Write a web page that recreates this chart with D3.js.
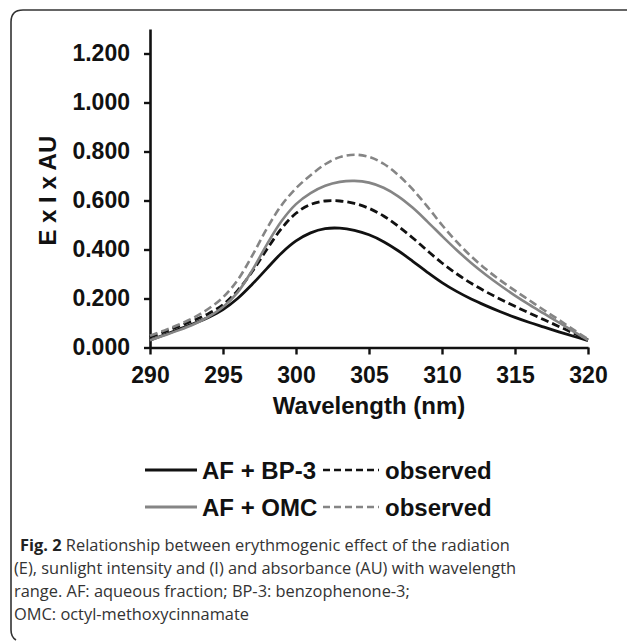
<!DOCTYPE html>
<html>
<head>
<meta charset="utf-8">
<script src="https://cdn.jsdelivr.net/npm/d3@7"></script>
<style>
  html, body { margin: 0; padding: 0; background: #fff; }
  svg { display: block; }
</style>
</head>
<body>
<svg id="chart" width="627" height="641"></svg>
<script>
// ---- data ----
const wavelengths = [290,291,292,293,294,295,296,297,298,299,300,301,302,303,304,305,306,307,308,309,310,311,312,313,314,315,316,317,318,319,320];
const afBp3 =       [0.030,0.052,0.075,0.098,0.123,0.155,0.200,0.258,0.322,0.385,0.435,0.468,0.485,0.487,0.478,0.460,0.432,0.395,0.352,0.307,0.265,0.229,0.198,0.171,0.146,0.123,0.102,0.083,0.064,0.046,0.028];
const bp3Observed = [0.042,0.064,0.087,0.111,0.138,0.175,0.232,0.310,0.400,0.485,0.548,0.584,0.598,0.598,0.588,0.568,0.537,0.495,0.447,0.395,0.345,0.301,0.262,0.228,0.197,0.168,0.140,0.113,0.086,0.059,0.032];
const afOmc =       [0.030,0.050,0.071,0.095,0.125,0.165,0.225,0.315,0.420,0.515,0.585,0.630,0.660,0.676,0.680,0.673,0.652,0.617,0.570,0.514,0.455,0.398,0.345,0.297,0.253,0.212,0.174,0.138,0.102,0.066,0.030];
const omcObserved = [0.048,0.070,0.094,0.122,0.158,0.205,0.275,0.375,0.485,0.580,0.650,0.703,0.748,0.777,0.787,0.778,0.750,0.704,0.645,0.575,0.500,0.432,0.372,0.320,0.274,0.232,0.192,0.152,0.113,0.073,0.034];

const xTicks = [290,295,300,305,310,315,320];
const yTicks = [0,0.2,0.4,0.6,0.8,1.0,1.2];
const yLabel = "E x I x AU";
const xLabel = "Wavelength (nm)";
const legendNames = ["AF + BP-3", "AF + OMC"];
const observedLabel = "observed";
const captionBold = "Fig. 2";
const captionLines = [
  " Relationship between erythmogenic effect of the radiation",
  "(E), sunlight intensity and (I) and absorbance (AU) with wavelength",
  "range. AF: aqueous fraction; BP-3: benzophenone-3;",
  "OMC: octyl-methoxycinnamate"
];

// ---- setup ----
const svg = d3.select("#chart");
const FONT = "'Liberation Sans', Arial, Helvetica, sans-serif";
const BLACK = "#111";
const GRAY = "#858585";

// frame (rounded top-left)
svg.append("path")
  .attr("d", "M627,10 L23,10 Q11,10 11,22 L11,630 Q11,637 16,640")
  .attr("fill", "none").attr("stroke", "#333").attr("stroke-width", 1.6);

const x = d3.scaleLinear().domain([290, 320]).range([150, 588]);
const y = d3.scaleLinear().domain([0, 1.3]).range([347.5, 29]);

// axes
const gx = svg.append("g").attr("transform", `translate(0,${y(0)})`)
  .call(d3.axisBottom(x).tickValues(xTicks).tickFormat(d3.format("d")).tickSize(7).tickPadding(12).tickSizeOuter(0));
const gy = svg.append("g").attr("transform", `translate(${x(290)},0)`)
  .call(d3.axisLeft(y).tickValues(yTicks).tickFormat(d3.format(".3f")).tickSize(6).tickPadding(14).tickSizeOuter(0));
[gx, gy].forEach(g => {
  g.selectAll("path.domain").attr("stroke", BLACK).attr("stroke-width", 2.6);
  g.selectAll(".tick line").attr("stroke", BLACK).attr("stroke-width", 2.4);
  g.selectAll(".tick text").attr("fill", BLACK).attr("font-family", FONT)
    .attr("font-weight", "bold").attr("font-size", 23);
});

// axis titles
svg.append("text").attr("transform", `translate(50,${y(0.64)}) rotate(-90)`)
  .attr("text-anchor", "middle").attr("dominant-baseline", "middle")
  .attr("font-family", FONT).attr("font-weight", "bold").attr("font-size", 24)
  .attr("fill", BLACK).text(yLabel);
svg.append("text").attr("x", x(305)).attr("y", 414)
  .attr("text-anchor", "middle")
  .attr("font-family", FONT).attr("font-weight", "bold").attr("font-size", 24)
  .attr("fill", BLACK).text(xLabel);

// series
const series = [
  { values: afBp3, color: BLACK, dash: null, width: 2.8 },
  { values: bp3Observed, color: BLACK, dash: "8,4", width: 2.8 },
  { values: afOmc, color: GRAY, dash: null, width: 2.6 },
  { values: omcObserved, color: GRAY, dash: "8,4", width: 2.6 }
];
const line = d3.line().x((d, i) => x(wavelengths[i])).y(d => y(d)).curve(d3.curveCatmullRom);
series.forEach(s => {
  svg.append("path").attr("d", line(s.values))
    .attr("fill", "none").attr("stroke", s.color).attr("stroke-width", s.width)
    .attr("stroke-dasharray", s.dash);
});

// legend
const legendRows = [
  { name: legendNames[0], color: BLACK, yy: 470 },
  { name: legendNames[1], color: GRAY, yy: 507 }
];
legendRows.forEach(r => {
  svg.append("line").attr("x1", 145).attr("x2", 197).attr("y1", r.yy).attr("y2", r.yy)
    .attr("stroke", r.color).attr("stroke-width", 2.8);
  svg.append("text").attr("x", 202).attr("y", r.yy + 8.5)
    .attr("font-family", FONT).attr("font-weight", "bold").attr("font-size", 24)
    .attr("fill", BLACK).text(r.name);
  svg.append("line").attr("x1", 323).attr("x2", 379).attr("y1", r.yy).attr("y2", r.yy)
    .attr("stroke", r.color).attr("stroke-width", 2.6).attr("stroke-dasharray", "7,4");
  svg.append("text").attr("x", 385).attr("y", r.yy + 8.5)
    .attr("font-family", FONT).attr("font-weight", "bold").attr("font-size", 24)
    .attr("fill", BLACK).text(observedLabel);
});

// caption
const CAP_FONT = "'Open Sans', 'Noto Sans', sans-serif";
const CAP_SIZE = 16.4;
const capBase = [551, 574, 597, 620];
const first = svg.append("text").attr("x", 20).attr("y", capBase[0])
  .attr("font-family", CAP_FONT).attr("font-size", CAP_SIZE).attr("fill", "#333");
first.append("tspan").attr("font-weight", "bold").attr("fill", "#222").text(captionBold);
first.append("tspan").text(captionLines[0]);
for (let i = 1; i < captionLines.length; i++) {
  svg.append("text").attr("x", 14).attr("y", capBase[i])
    .attr("font-family", CAP_FONT).attr("font-size", CAP_SIZE).attr("fill", "#333")
    .text(captionLines[i]);
}
</script>
</body>
</html>
